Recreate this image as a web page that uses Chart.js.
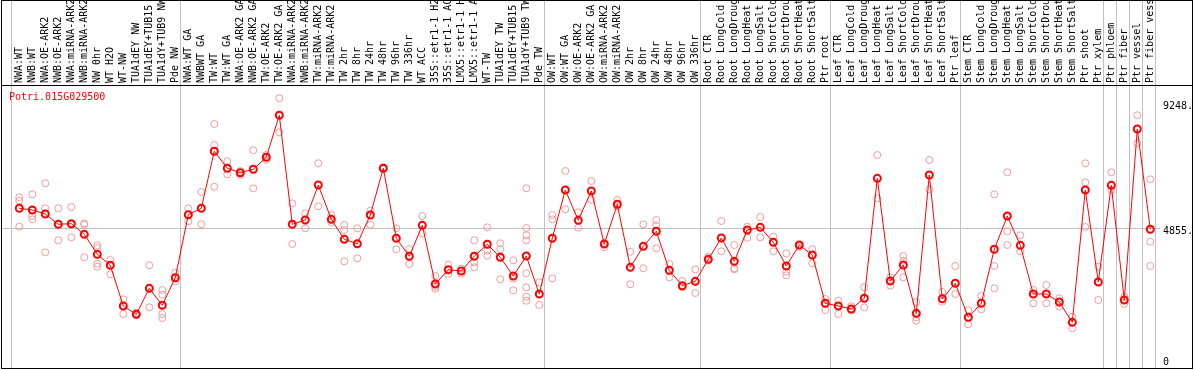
<!DOCTYPE html>
<html>
<head>
<meta charset="utf-8">
<script src="https://cdn.jsdelivr.net/npm/chart.js@4/dist/chart.umd.min.js"></script>
<style>
  body { margin: 0; background: #ffffff; }
  #chart { display: block; }
</style>
</head>
<body>
<canvas id="chart" width="1194" height="370"></canvas>
<script>
const geneName = "Potri.015G029500";

const categories = [
  "NWA:WT", "NWB:WT", "NWA:OE-ARK2", "NWB:OE-ARK2", "NWA:miRNA-ARK2", "NWB:miRNA-ARK2",
  "NW 0hr", "WT H2O", "WT-NW", "TUA1dEY NW", "TUA1dEY+TUB15 NW", "TUA1dY+TUB9 NW", "Pde NW",
  "NWA:WT GA", "NWBWT GA", "TW:WT", "TW:WT GA", "NWA:OE-ARK2 GA", "NWB:OE-ARK2 GA",
  "TW:OE-ARK2", "TW:OE-ARK2 GA", "NWA:miRNA-ARK2 GA", "NWB:miRNA-ARK2 GA", "TW:miRNA-ARK2",
  "TW:miRNA-ARK2 GA", "TW 2hr", "TW 8hr", "TW 24hr", "TW 48hr", "TW 96hr", "TW 336hr", "WT ACC",
  "35S::etr1-1 H2O", "35S::etr1-1 ACC", "LMX5::etr1-1 H2O", "LMX5::etr1-1 ACC", "WT-TW",
  "TUA1dEY TW", "TUA1dEY+TUB15 TW", "TUA1dY+TUB9 TW", "Pde TW",
  "OW:WT", "OW:WT GA", "OW:OE-ARK2", "OW:OE-ARK2 GA", "OW:miRNA-ARK2", "OW:miRNA-ARK2 GA",
  "OW 2hr", "OW 8hr", "OW 24hr", "OW 48hr", "OW 96hr", "OW 336hr",
  "Root CTR", "Root LongCold", "Root LongDrought", "Root LongHeat", "Root LongSalt",
  "Root ShortCold", "Root ShortDrought", "Root ShortHeat", "Root ShortSalt", "Ptr root",
  "Leaf CTR", "Leaf LongCold", "Leaf LongDrought", "Leaf LongHeat", "Leaf LongSalt",
  "Leaf ShortCold", "Leaf ShortDrought", "Leaf ShortHeat", "Leaf ShortSalt", "Ptr leaf",
  "Stem CTR", "Stem LongCold", "Stem LongDrought", "Stem LongHeat", "Stem LongSalt",
  "Stem ShortCold", "Stem ShortDrought", "Stem ShortHeat", "Stem ShortSalt", "Ptr shoot", "Ptr xylem",
  "Ptr phloem", "Ptr fiber", "Ptr vessel", "Ptr fiber vessel"
];

// number of samples in each block between the grey separators
const groupSizes = [13, 28, 12, 10, 10, 11, 1, 1, 1, 1];

const means = [
  5543, 5483, 5343, 4981, 5002, 4629, 3926, 3540, 2109, 1817, 2731, 2134, 3104,
  5318, 5543, 7547, 6949, 6794, 6914, 7336, 8812, 4981, 5132, 6362, 5156, 4453, 4299,
  5307, 6949, 4489, 3856, 4945, 2882, 3385, 3339, 3856, 4278, 3821, 3163, 3866, 2531,
  4489, 6186, 5121, 6151, 4288, 5684, 3469, 4207, 4735, 3364, 2822, 2977,
  3750, 4499, 3680, 4780, 4875, 4348, 3515, 4253, 3902, 2204,
  2109, 2003, 2380, 6597, 2988, 3550, 1852, 6713, 2366, 2907,
  1712, 2204, 4102, 5272, 4242, 2531, 2531, 2250, 1536, 6186, 2953,
  6351, 2320, 8330, 4805
];

const replicates = [
  [5930, 5810, 4896], [6035, 5272, 5156], [6422, 5543, 3996], [5543, 4418], [5589, 4967, 4524],
  [5016, 4967, 3821], [4242, 4148, 3596, 3490], [3726, 3223], [2344, 1828], [1873, 1782],
  [3540, 2063], [2671, 2506, 1828, 1687], [3279, 2977],
  [5543, 5086], [6116, 4981], [8506, 7768, 6302], [7195, 6738], [6854, 6713], [7582, 6246],
  [7416, 7241], [9409, 8214], [5719, 4288], [5367, 4840], [7125, 5613], [5307, 5051],
  [4956, 4780, 3680], [4840, 3786], [5459, 4967], [6984, 6935], [4840, 4102], [4112, 3585],
  [5272, 4664], [3163, 2787, 2717], [3561, 3234], [3420, 3244], [4418, 3645, 3469],
  [4875, 4053, 3877], [4313, 4102, 3047], [3715, 3068, 2661],
  [6246, 4851, 4594, 4418, 3258, 2766, 2436, 2295], [2942, 2144],
  [5307, 5156, 3083], [6854, 5508], [5402, 4861], [6503, 5835], [4172, 4320], [5835, 5600],
  [4017, 2872], [4981, 3434], [5132, 4945, 4137], [3585, 3118], [2988, 2766], [3399, 2566],
  [3842, 3701], [5097, 4032], [4253, 3434, 3399], [4896, 4510], [5237, 4524], [4545, 4032],
  [3961, 3314, 3188], [4253, 4180], [4102, 3610], [2355, 1968],
  [2295, 1828], [2100, 1950], [2766, 2063], [7416, 5894], [3118, 2822], [3866, 3701, 3118],
  [2250, 1712, 1592], [7241, 6211], [2601, 2260], [3515, 2531],
  [1968, 1466], [2460, 1993], [6035, 3515, 2731], [6808, 4734, 4253], [4594, 4032],
  [2671, 2204], [2847, 2204], [2380, 2084], [1733, 1325], [7125, 6457, 4886], [3490, 2320],
  [6808, 6186], [2436, 2179], [8812, 7828], [6562, 4369, 3515]
];

const yTicks = [9248, 4855, 0];
const yGridValue = 4855;

const meanPoints = means.map((v, i) => ({ x: i, y: v }));
const replicatePoints = [];
replicates.forEach((reps, i) => {
  reps.forEach(v => replicatePoints.push({ x: i, y: v }));
});

const boundaries = [0];
groupSizes.forEach(n => boundaries.push(boundaries[boundaries.length - 1] + n));

const monoFont = "10px 'DejaVu Sans Mono', 'Liberation Mono', monospace";

const frameAndLabels = {
  id: "frameAndLabels",
  beforeDatasetsDraw(chart) {
    const ctx = chart.ctx;
    const xs = chart.scales.x;
    const ys = chart.scales.y;
    ctx.save();
    ctx.strokeStyle = "#c0c0c0";
    ctx.lineWidth = 1;
    const gy = Math.round(ys.getPixelForValue(yGridValue)) + 0.5;
    ctx.beginPath();
    ctx.moveTo(2, gy);
    ctx.lineTo(1160, gy);
    ctx.stroke();
    boundaries.forEach(b => {
      const px = Math.round(xs.getPixelForValue(b - 0.638)) + 0.5;
      ctx.beginPath();
      ctx.moveTo(px, 1);
      ctx.lineTo(px, chart.chartArea.bottom);
      ctx.stroke();
    });
    ctx.restore();
  },
  afterDraw(chart) {
    const ctx = chart.ctx;
    const xs = chart.scales.x;
    const ys = chart.scales.y;
    const area = chart.chartArea;
    ctx.save();

    // outer frame and header separator
    ctx.strokeStyle = "#000000";
    ctx.lineWidth = 1;
    ctx.strokeRect(1.5, 0.5, 1191, area.bottom);
    ctx.beginPath();
    ctx.moveTo(1, area.top + 0.5);
    ctx.lineTo(1193, area.top + 0.5);
    ctx.stroke();

    // vertical sample names in the header
    ctx.save();
    ctx.beginPath();
    ctx.rect(2, 1, 1190, area.top - 1);
    ctx.clip();
    ctx.font = monoFont;
    ctx.fillStyle = "#000000";
    ctx.textAlign = "left";
    ctx.textBaseline = "middle";
    categories.forEach((name, i) => {
      ctx.save();
      ctx.translate(xs.getPixelForValue(i), area.top - 2);
      ctx.rotate(-Math.PI / 2);
      ctx.fillText(name, 0, 0);
      ctx.restore();
    });
    ctx.restore();

    // gene name
    ctx.font = monoFont;
    ctx.fillStyle = "#ff0000";
    ctx.textAlign = "left";
    ctx.textBaseline = "middle";
    ctx.fillText(geneName, 9, area.top + 12);

    // right-hand value labels
    ctx.fillStyle = "#000000";
    yTicks.forEach(v => {
      let py = ys.getPixelForValue(v) + 4;
      if (py > area.bottom - 6) py = area.bottom - 6;
      ctx.fillText(v === 0 ? "0" : v + ".", 1163, py);
    });
    ctx.restore();
  }
};

new Chart(document.getElementById("chart"), {
  type: "line",
  data: {
    datasets: [
      {
        label: "replicates",
        type: "scatter",
        data: replicatePoints,
        showLine: false,
        pointStyle: "circle",
        pointRadius: 3.5,
        pointBorderWidth: 1,
        pointBorderColor: "#f29a9a",
        pointBackgroundColor: "rgba(0,0,0,0)",
        order: 2
      },
      {
        label: geneName,
        data: meanPoints,
        borderColor: "#ff0000",
        borderWidth: 1,
        tension: 0,
        pointStyle: "circle",
        pointRadius: 3.5,
        pointBorderWidth: 2,
        pointBorderColor: "#ff0000",
        pointBackgroundColor: "rgba(0,0,0,0)",
        order: 1
      }
    ]
  },
  options: {
    responsive: false,
    animation: false,
    events: [],
    layout: { autoPadding: false, padding: { left: 11, right: 39, top: 85, bottom: 2 } },
    plugins: {
      legend: { display: false },
      tooltip: { enabled: false }
    },
    scales: {
      x: { type: "linear", min: -0.638, max: 87.362, display: false },
      y: { type: "linear", min: -70, max: 9877, display: false }
    }
  },
  plugins: [frameAndLabels]
});
</script>
</body>
</html>
